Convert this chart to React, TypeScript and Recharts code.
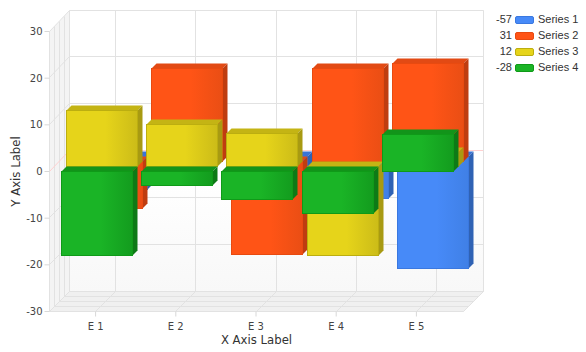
import React from "react";
import { BarChart, Bar, XAxis, YAxis, CartesianGrid } from "recharts";

const categories = ["E 1", "E 2", "E 3", "E 4", "E 5"];
const series1 = [-7, 2, -19, -9, -24];
const series2 = [-10, 20, -20, 20, 21];
const series3 = [12, 9, 7, -19, 3];
const series4 = [-18, -3, -6, -9, 8];
const seriesNames = ["Series 1", "Series 2", "Series 3", "Series 4"];
const legendTotals = [-57, 31, 12, -28];
const yTicks = [-30, -20, -10, 0, 10, 20, 30];

const chartData = categories.map((name, i) => ({
  name,
  s1: series1[i],
  s2: series2[i],
  s3: series3[i],
  s4: series4[i],
}));

const W = 586;
const H = 352;
const LEFT = 50;
const TOP = 31;
const RIGHT = 464;
const BOTTOM = 311;
const DEPTH = 20;
const SLOT = 5;
const BAR_W = 71;
// half pixel nudge so 1px lines land on whole pixels
const CRISP = "translate(-0.5px, 0.5px)";

const palette = [
  { id: "blue", light: "#478af8", dark: "#4080e6", top: "#3a74d6", side: "#2f62b4", edge: "#3a78e0" },
  { id: "red", light: "#ff5416", dark: "#ea4e14", top: "#e24a14", side: "#bf3d10", edge: "#e84a10" },
  { id: "yellow", light: "#e6d41a", dark: "#ccbc18", top: "#c4b414", side: "#a89a12", edge: "#bcae10" },
  { id: "green", light: "#1ab426", dark: "#139c1e", top: "#12941a", side: "#0e7a16", edge: "#0f9a18" },
];

// fake 3d box, the bar keeps the library's x/y/size and is only pushed back by its depth slot
const box3d = (slot: number, c: (typeof palette)[number]) => (props: any) => {
  const { x, y, width, height } = props;
  const off = slot * SLOT;
  const l = Math.round(x) + 1 + off;
  const r = l + Math.round(width);
  const t = Math.round(Math.min(y, y + height)) - off;
  const b = Math.round(Math.max(y, y + height)) - off;
  return (
    <g>
      <polygon points={`${l},${t} ${l + SLOT},${t - SLOT} ${r + SLOT},${t - SLOT} ${r},${t}`} fill={c.top} />
      <polygon points={`${r},${t} ${r + SLOT},${t - SLOT} ${r + SLOT},${b - SLOT} ${r},${b}`} fill={c.side} />
      <rect x={l} y={t} width={r - l} height={b - t} fill={`url(#face-${c.id})`} stroke={c.edge} strokeWidth={1} />
    </g>
  );
};

const gridColor = "#e2e2e2";

// the back wall is one pixel taller than the front plane
const backY = (y: number) => Math.floor(BOTTOM - DEPTH - ((BOTTOM - y) * 281) / 280);

const hLine = (p: any) => {
  const { x1, x2, y1, index } = p;
  const zero = index === 3;
  const by = backY(y1);
  return (
    <path
      key={`h-${index}`}
      d={`M${x1} ${Math.floor(y1)} L${x1 + DEPTH} ${by} L${x2 + DEPTH} ${by}`}
      fill="none"
      stroke={zero ? "#ffd0d0" : gridColor}
      strokeWidth={1}
    />
  );
};

const vLine = (p: any) => {
  const { x1, y1, y2, index } = p;
  const x = Math.round(x1);
  return (
    <path
      key={`v-${index}`}
      d={`M${x} ${y2} L${x + DEPTH} ${y2 - DEPTH} L${x + DEPTH} ${backY(y1)}`}
      fill="none"
      stroke={gridColor}
      strokeWidth={1}
    />
  );
};

// walls and floor sit in their own svg behind the transparent chart
const Walls = () => {
  const backTop = TOP - DEPTH - 1;
  const backBottom = BOTTOM - DEPTH;
  return (
    <svg width={W} height={H} style={{ position: "absolute", left: 0, top: 0, transform: CRISP }}>
      <defs>
        <linearGradient id="backWall" x1="0" y1="0" x2="0" y2="1">
          <stop offset="0.6" stopColor="#ffffff" />
          <stop offset="1" stopColor="#f8f8f8" />
        </linearGradient>
      </defs>
      <polygon points={`${LEFT + DEPTH},${backTop} ${RIGHT + DEPTH},${backTop} ${RIGHT + DEPTH},${backBottom} ${LEFT + DEPTH},${backBottom}`} fill="url(#backWall)" />
      <polygon points={`${LEFT},${TOP} ${LEFT + DEPTH},${backTop} ${LEFT + DEPTH},${backBottom} ${LEFT},${BOTTOM}`} fill="#f4f4f4" />
      <polygon points={`${LEFT},${BOTTOM} ${LEFT + DEPTH},${backBottom} ${RIGHT + DEPTH},${backBottom} ${RIGHT},${BOTTOM}`} fill="#f0f0f0" />
      {[1, 2, 3].map((d) => (
        <path
          key={d}
          d={`M${LEFT + d * SLOT} ${TOP - d * SLOT} V${BOTTOM - d * SLOT} H${RIGHT + d * SLOT}`}
          fill="none"
          stroke={gridColor}
        />
      ))}
      <path d={`M${RIGHT} ${BOTTOM} L${RIGHT + DEPTH} ${backBottom} V${backTop}`} fill="none" stroke={gridColor} />
      <path d={`M${LEFT + DEPTH} ${backTop} V${backBottom}`} fill="none" stroke={gridColor} />
    </svg>
  );
};

const LegendBox = () => (
  <div
    style={{
      position: "absolute",
      left: 490,
      top: 13,
      width: 96,
      fontFamily: "'Liberation Sans', Arial, sans-serif",
      fontSize: 11,
      color: "#333",
    }}
  >
    {seriesNames.map((name, i) => (
      <div key={name} style={{ position: "absolute", left: 0, top: i * 16, height: 16, width: 96 }}>
        <span style={{ position: "absolute", right: 74, top: 0, whiteSpace: "nowrap" }}>{legendTotals[i]}</span>
        <span
          style={{
            position: "absolute",
            left: 25,
            top: 3,
            width: 17,
            height: 6,
            borderRadius: 2,
            background: palette[i].light,
            border: `1px solid ${palette[i].edge}`,
          }}
        />
        <span style={{ position: "absolute", left: 48, top: 0, whiteSpace: "nowrap" }}>{name}</span>
      </div>
    ))}
  </div>
);

export default function App() {
  const tickStyle = { fontSize: 10, fontFamily: "'DejaVu Sans', sans-serif", fill: "#444" };
  const labelStyle = { fontSize: 11.7, fontFamily: "'DejaVu Sans', sans-serif", fill: "#333" };
  return (
    <div style={{ position: "absolute", left: 0, top: 0, width: W, height: H, background: "#fff" }}>
      <Walls />
      <div style={{ position: "absolute", left: 0, top: 0, transform: CRISP }}>
        <BarChart
          width={W}
          height={H}
          data={chartData}
          barSize={BAR_W}
          barGap={-BAR_W}
          margin={{ top: TOP, right: W - RIGHT, bottom: 0, left: 0 }}
        >
          <defs>
            {palette.map((c) => (
              <linearGradient key={c.id} id={`face-${c.id}`} x1="0" y1="0" x2="1" y2="0">
                <stop offset="0" stopColor={c.light} />
                <stop offset="0.55" stopColor={c.light} />
                <stop offset="1" stopColor={c.dark} />
              </linearGradient>
            ))}
          </defs>
          <CartesianGrid horizontal={hLine} vertical={vLine} />
          <XAxis
            dataKey="name"
            padding={{ left: 6, right: 7 }}
            height={41}
            tick={tickStyle}
            tickLine={{ stroke: "#d8d8d8" }}
            axisLine={{ stroke: gridColor }}
            tickSize={5}
            tickMargin={6}
            label={{ value: "X Axis Label", position: "insideBottom", offset: 9, style: labelStyle }}
          />
          <YAxis
            width={LEFT}
            domain={[-30, 30]}
            ticks={yTicks}
            interval={0}
            tick={tickStyle}
            tickLine={{ stroke: "#d8d8d8" }}
            axisLine={{ stroke: gridColor }}
            tickSize={5}
            tickMargin={2}
            label={{ value: "Y Axis Label", angle: -90, position: "insideLeft", offset: 16, style: { ...labelStyle, textAnchor: "middle" } }}
          />
          <Bar dataKey="s1" name={seriesNames[0]} fill={palette[0].light} isAnimationActive={false} shape={box3d(3, palette[0])} />
          <Bar dataKey="s2" name={seriesNames[1]} fill={palette[1].light} isAnimationActive={false} shape={box3d(2, palette[1])} />
          <Bar dataKey="s3" name={seriesNames[2]} fill={palette[2].light} isAnimationActive={false} shape={box3d(1, palette[2])} />
          <Bar dataKey="s4" name={seriesNames[3]} fill={palette[3].light} isAnimationActive={false} shape={box3d(0, palette[3])} />
        </BarChart>
      </div>
      <LegendBox />
    </div>
  );
}
